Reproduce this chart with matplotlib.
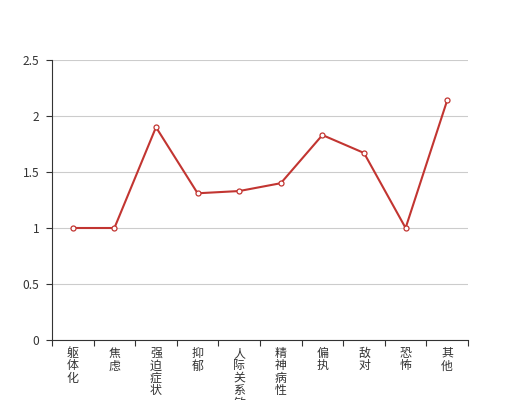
import numpy as np
import matplotlib
matplotlib.use('Agg')
import matplotlib.pyplot as plt

plt.rcParams['font.family'] = ['Noto Sans CJK SC', 'DejaVu Sans']

# Data
categories = ['躯体化', '焦虑', '强迫症状', '抑郁', '人际关系敏感',
              '精神病性', '偏执', '敌对', '恐怖', '其他']
scores = [1.0, 1.0, 1.9, 1.31, 1.33, 1.4, 1.83, 1.67, 1.0, 2.14]
y_ticks = [0, 0.5, 1, 1.5, 2, 2.5]
y_tick_labels = ['0', '0.5', '1', '1.5', '2', '2.5']

fig = plt.figure(figsize=(5.2, 4), dpi=100)
ax = fig.add_axes([0.1, 0.15, 0.8, 0.7])

x = np.arange(len(categories))
ax.plot(x, scores, color='#c23531', linewidth=1.5, marker='o',
        markersize=3.6, markerfacecolor='white', markeredgecolor='#c23531',
        markeredgewidth=0.9, zorder=3)

ax.set_xlim(-0.5, len(categories) - 0.5)
ax.set_ylim(0, 2.5)

# y axis
ax.set_yticks(y_ticks)
ax.set_yticklabels(y_tick_labels)
ax.grid(axis='y', color='#cccccc', linewidth=0.8)
ax.set_axisbelow(True)

# x axis: ticks at category boundaries, labels at centers (one char per line)
ax.set_xticks(np.arange(-0.5, len(categories), 1))
ax.set_xticklabels([])
ax.set_xticks(x, minor=True)
ax.set_xticklabels(['\n'.join(c) for c in categories], minor=True,
                   va='top', linespacing=0.95)

ax.tick_params(axis='both', which='major', direction='out', length=4,
               width=0.8, color='#333333', labelsize=8.6, labelcolor='#333333')
ax.tick_params(axis='x', which='minor', length=0, pad=5,
               labelsize=8.6, labelcolor='#333333')
ax.tick_params(axis='y', pad=5)

for side in ['top', 'right']:
    ax.spines[side].set_visible(False)
for side in ['left', 'bottom']:
    ax.spines[side].set_color('#333333')
    ax.spines[side].set_linewidth(0.8)

fig.savefig('out.png', dpi=100)
